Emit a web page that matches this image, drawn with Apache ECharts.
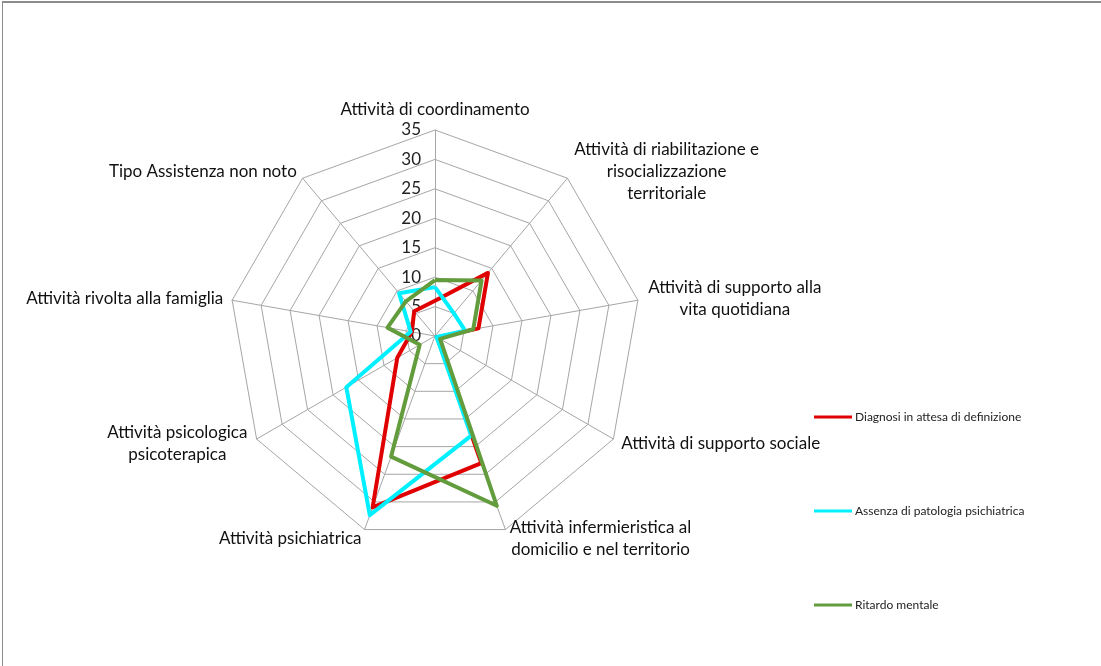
<!DOCTYPE html>
<html>
<head>
<meta charset="utf-8">
<script src="https://cdn.jsdelivr.net/npm/echarts@6.0.0/dist/echarts.min.js"></script>
<style>
html, body { margin: 0; padding: 0; background: #fff; overflow: hidden; }
#chart { width: 1101px; height: 666px; }
#frame { position: absolute; left: 2px; top: 1px; width: 1099px; height: 665px; box-sizing: border-box;
         border-top: 2px solid #8c8c8c; border-left: 1px solid #8c8c8c; pointer-events: none; }
</style>
</head>
<body>
<div id="chart"></div>
<div id="frame"></div>
<script>
// categorie, in senso orario partendo dall'alto
var categories = [
    'Attività di coordinamento',
    'Attività di riabilitazione e\nrisocializzazione\nterritoriale',
    'Attività di supporto alla\nvita quotidiana',
    'Attività di supporto sociale',
    'Attività infermieristica al\ndomicilio e nel territorio',
    'Attività psichiatrica',
    'Attività psicologica\npsicoterapica',
    'Attività rivolta alla famiglia',
    'Tipo Assistenza non noto'
];
var seriesNames = ['Diagnosi in attesa di definizione', 'Assenza di patologia psichiatrica', 'Ritardo mentale'];
var diagnosiValues = [6, 14, 7.5, 0.5, 23, 31, 7.4, 4, 5.5];
var assenzaValues = [8.3, 5, 5.2, 0.3, 18, 32.4, 17.4, 4.2, 9.5];
var ritardoValues = [9.5, 12.3, 6.6, 1, 30.7, 21.8, 3, 8.2, 7.7];
var axisMax = 35;
var axisStep = 5;

var colors = ['#e00000', '#00f0ff', '#639c3c'];
var labelFont = 'Lato, "Liberation Sans", sans-serif';

// echarts gira in senso antiorario: riordino
var n = categories.length;
var order = categories.map(function (c, i) { return (n - i) % n; });

// etichette su più righe centrate
var ctx = document.createElement('canvas').getContext('2d');
ctx.font = '17px ' + labelFont;
var rich = {};
categories.forEach(function (name, i) {
    var w = 0;
    name.split('\n').forEach(function (line) { w = Math.max(w, ctx.measureText(line).width); });
    rich['n' + i] = { width: Math.ceil(w) + 2, align: 'center', fontSize: 17, lineHeight: 22,
                      color: '#111', fontFamily: labelFont };
});

var indicators = order.map(function (i, k) {
    var ind = { name: categories[i], min: 0, max: axisMax };
    if (k === 0) ind.axisLabel = { show: true };
    return ind;
});

var allValues = [diagnosiValues, assenzaValues, ritardoValues];

var chart = echarts.init(document.getElementById('chart'));
var option = {
    animation: false,
    backgroundColor: '#fff',
    legend: {
        orient: 'vertical',
        left: 809,
        top: 406,
        itemGap: 82,
        itemWidth: 38,
        itemHeight: 3,
        icon: 'rect',
        selectedMode: false,
        textStyle: { fontSize: 12, color: '#222', fontFamily: labelFont, padding: [0, 0, 0, -2] },
        data: seriesNames
    },
    radar: {
        center: [435, 336],
        radius: 206,
        startAngle: 90,
        shape: 'polygon',
        splitNumber: axisMax / axisStep,
        indicator: indicators,
        axisName: {
            color: '#111',
            fontSize: 17,
            lineHeight: 22,
            fontFamily: labelFont,
            rich: rich,
            formatter: function (name) {
                var i = categories.indexOf(name);
                if (name.indexOf('\n') < 0) return name;
                return name.split('\n').map(function (l) { return '{n' + i + '|' + l + '}'; }).join('\n');
            }
        },
        nameGap: 9,
        axisLine: { lineStyle: { color: '#a6a6a6', width: 1 } },
        splitLine: { lineStyle: { color: '#a6a6a6', width: 1 } },
        splitArea: { show: false },
        axisTick: { show: false },
        axisLabel: {
            show: false,
            margin: 14,
            fontSize: 17,
            color: '#222',
            fontFamily: labelFont
        }
    },
    series: seriesNames.map(function (name, k) {
        return {
            type: 'radar',
            name: name,
            symbol: 'none',
            itemStyle: { color: colors[k] },
            lineStyle: { color: colors[k], width: 4 },
            data: [{
                name: name,
                value: order.map(function (i) { return allValues[k][i]; })
            }]
        };
    })
};
chart.setOption(option);
</script>
</body>
</html>
